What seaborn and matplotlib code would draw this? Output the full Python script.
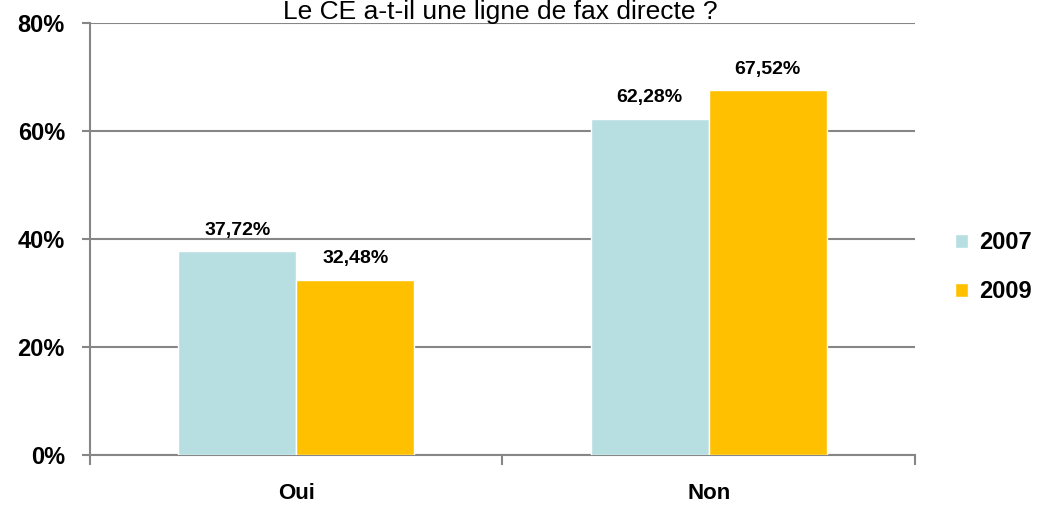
import pandas as pd
import matplotlib.pyplot as plt
import seaborn as sns
from matplotlib.ticker import FuncFormatter

# Data
categories = ["Oui", "Non"]
years = ["2007", "2009"]
values_2007 = [37.72, 62.28]
values_2009 = [32.48, 67.52]
colors = ["#B7DEE1", "#FFC000"]

df = pd.DataFrame({
    "reponse": categories * 2,
    "annee": [years[0]] * 2 + [years[1]] * 2,
    "pct": values_2007 + values_2009,
})

sns.set_style("white")
plt.rcParams["font.family"] = ["Liberation Sans", "DejaVu Sans"]
plt.rcParams["text.color"] = "black"
plt.rcParams["xtick.labelcolor"] = "black"
plt.rcParams["ytick.labelcolor"] = "black"

fig = plt.figure(figsize=(10.39, 5.07), dpi=100)
ax = fig.add_axes([0.0866, 0.1026, 0.794, 0.852])

sns.barplot(data=df, x="reponse", y="pct", hue="annee", order=categories,
            hue_order=years, palette=colors, width=0.572, saturation=1,
            ax=ax, zorder=3)

ax.set_ylim(0, 80)
ax.set_xlim(-0.5, 1.5)
ax.set_yticks([0, 20, 40, 60, 80])
ax.yaxis.set_major_formatter(FuncFormatter(lambda v, p: f"{v:.0f}%"))
ax.grid(axis="y", color="#868686", linewidth=1.5, zorder=0)
ax.set_xlabel("")
ax.set_ylabel("")

for s in ["top", "right"]:
    ax.spines[s].set_visible(False)
for s in ["left", "bottom"]:
    ax.spines[s].set_color("#868686")
    ax.spines[s].set_linewidth(1.5)

ax.tick_params(axis="y", left=True, length=6, color="#868686", width=1.5,
               labelsize=17, pad=12)
ax.tick_params(axis="x", bottom=False, labelsize=16, pad=17)
ax.set_xticks([-0.5, 0.5, 1.5], minor=True)
ax.tick_params(axis="x", which="minor", bottom=True, length=7,
               color="#868686", width=1.5)
for lbl in ax.get_yticklabels() + ax.get_xticklabels():
    lbl.set_fontweight("bold")

for cont in ax.containers:
    ax.bar_label(cont, labels=[f"{v:.2f}%".replace(".", ",") for v in cont.datavalues],
                 padding=9, fontsize=14, fontweight="bold", color="black")

ax.legend(loc="center left", bbox_to_anchor=(1.023, 0.435), frameon=False,
          prop={"size": 17, "weight": "bold"}, handlelength=0.55,
          handleheight=0.55, handletextpad=0.45, labelspacing=1.1)

fig.text(0.482, 0.9625, "Le CE a-t-il une ligne de fax directe ?",
         ha="center", va="baseline", fontsize=19)

fig.savefig("out.png", dpi=100)
